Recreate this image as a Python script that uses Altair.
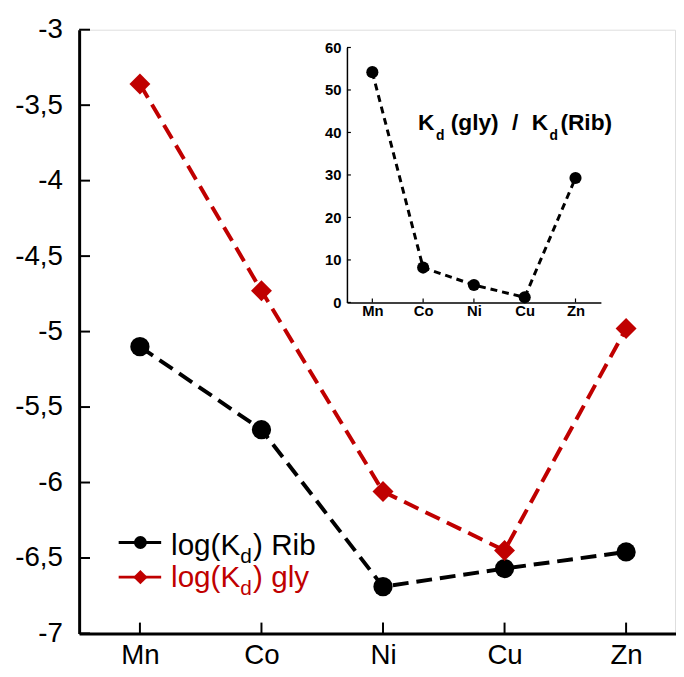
import altair as alt
import pandas as pd

# ---- data ----
metals = ["Mn", "Co", "Ni", "Cu", "Zn"]
log_kd_rib = [-5.10, -5.65, -6.69, -6.57, -6.46]
log_kd_gly = [-3.36, -4.73, -6.06, -6.45, -4.98]
ratio_gly_rib = [54.2, 8.2, 4.1, 1.2, 29.3]
main_y_ticks = [-7, -6.5, -6, -5.5, -5, -4.5, -4, -3.5, -3]
inset_y_ticks = [0, 10, 20, 30, 40, 50, 60]

FONT = "Liberation Sans"
RED = "#C00000"
W, H = 603, 611

rib_df = pd.DataFrame({"metal": metals, "value": log_kd_rib})
gly_df = pd.DataFrame({"metal": metals, "value": log_kd_gly})
ratio_df = pd.DataFrame({"metal": metals, "ratio": ratio_gly_rib})
cat_df = pd.DataFrame({"metal": metals})
ytick_df = pd.DataFrame({"value": main_y_ticks})
itick_df = pd.DataFrame({"ratio": inset_y_ticks})

# ---- main scales / axes ----
x_axis_main = alt.Axis(title=None, orient="bottom", ticks=False, grid=False,
                       domainWidth=3, domainColor="black", labelAngle=0,
                       labelFont=FONT, labelFontSize=28, labelColor="black",
                       labelPadding=8)
y_axis_main = alt.Axis(title=None, orient="left", ticks=False, grid=False,
                       values=main_y_ticks, domainWidth=3, domainColor="black",
                       labelFont=FONT, labelFontSize=28, labelColor="black",
                       labelPadding=17,
                       labelExpr="replace(toString(datum.value), '.', ',')")
x_main = alt.X("metal:N", sort=metals,
               scale=alt.Scale(type="point", domain=metals, range=[0, 615], padding=0.5),
               axis=x_axis_main)
y_main = alt.Y("value:Q", scale=alt.Scale(domain=[-7, -3], nice=False, zero=False),
               axis=y_axis_main)

rib_line = alt.Chart(rib_df).mark_line(color="black", strokeWidth=4,
                                       strokeDash=[16, 8]).encode(x=x_main, y=y_main)
gly_line = alt.Chart(gly_df).mark_line(color=RED, strokeWidth=4,
                                       strokeDash=[16, 8]).encode(x=x_main, y=y_main)
rib_pts = alt.Chart(rib_df).mark_point(shape="circle", filled=True, size=380,
                                       color="black", opacity=1).encode(x=x_main, y=y_main)
gly_pts = alt.Chart(gly_df).mark_point(shape="diamond", filled=True, size=450,
                                       color=RED, opacity=1).encode(x=x_main, y=y_main)
x_ticks = alt.Chart(cat_df).mark_rule(color="black", strokeWidth=2).encode(
    x=x_main, y=alt.value(H), y2=alt.value(H - 11))
y_ticks = alt.Chart(ytick_df).mark_rule(color="black", strokeWidth=2).encode(
    y=y_main, x=alt.value(0), x2=alt.value(11))


def txt(s, x, y, size, color="black", bold=False):
    return alt.Chart(pd.DataFrame({"t": [s]})).mark_text(
        align="left", baseline="alphabetic", font=FONT, fontSize=size,
        fontWeight="bold" if bold else "normal", color=color
    ).encode(text="t:N", x=alt.value(x), y=alt.value(y))


def leg_line(y, color):
    return alt.Chart(pd.DataFrame({"t": [0]})).mark_rule(color=color, strokeWidth=3).encode(
        x=alt.value(40), x2=alt.value(83), y=alt.value(y))


def leg_pt(y, color, shape, size):
    return alt.Chart(pd.DataFrame({"t": [0]})).mark_point(
        shape=shape, filled=True, size=size, color=color, opacity=1).encode(
        x=alt.value(62), y=alt.value(y))


legend = [
    leg_line(519, "black"), leg_pt(519, "black", "circle", 170),
    txt("log(K", 93, 532, 30), txt("d", 163, 540, 21), txt(") Rib", 176, 532, 30),
    leg_line(554, RED), leg_pt(554, RED, "diamond", 210),
    txt("log(K", 93, 564, 30, RED), txt("d", 163, 572, 21, RED), txt(") gly", 176, 564, 30, RED),
]

title = [
    txt("K", 343, 102, 23, bold=True), txt("d", 361, 112, 14, bold=True),
    txt("(gly)", 376, 102, 23, bold=True), txt("/", 438, 102, 23, bold=True),
    txt("K", 458, 102, 23, bold=True), txt("d", 476, 112, 14, bold=True),
    txt("(Rib)", 487, 102, 23, bold=True),
]

main = alt.layer(rib_line, gly_line, x_ticks, y_ticks, rib_pts, gly_pts, *legend, *title)

# ---- inset ----
IY0, IY1 = 276, 18   # pixel positions of 0 and 60
IX0, IX1 = 271, 528
x_axis_in = alt.Axis(title=None, orient="bottom", offset=IY0 - H, ticks=False, grid=False,
                     domainWidth=1.5, domainColor="black", labelAngle=0,
                     labelFont=FONT, labelFontSize=15, labelFontWeight="bold",
                     labelColor="black", labelPadding=1)
y_axis_in = alt.Axis(title=None, orient="left", offset=-IX0, ticks=False, grid=False,
                     values=inset_y_ticks, domainWidth=1.5, domainColor="black",
                     labelFont=FONT, labelFontSize=15, labelFontWeight="bold",
                     labelColor="black", labelPadding=6)
x_in = alt.X("metal:N", sort=metals,
             scale=alt.Scale(type="point", domain=metals, range=[IX0, IX1], padding=0.5),
             axis=x_axis_in)
y_in = alt.Y("ratio:Q", scale=alt.Scale(domain=[0, 60], range=[IY0, IY1], nice=False),
             axis=y_axis_in)

in_line = alt.Chart(ratio_df).mark_line(color="black", strokeWidth=3,
                                        strokeDash=[7, 5]).encode(x=x_in, y=y_in)
in_pts = alt.Chart(ratio_df).mark_point(shape="circle", filled=True, size=150,
                                        color="black", opacity=1).encode(x=x_in, y=y_in)
in_xt = alt.Chart(cat_df).mark_rule(color="black", strokeWidth=1.2).encode(
    x=x_in, y=alt.value(IY0), y2=alt.value(IY0 - 4))
in_yt = alt.Chart(itick_df).mark_rule(color="black", strokeWidth=1.2).encode(
    y=y_in, x=alt.value(IX0), x2=alt.value(IX0 + 4))

inset = alt.layer(in_line, in_xt, in_yt, in_pts)

chart = alt.layer(main, inset).resolve_scale(x="independent", y="independent").properties(
    width=W, height=H,
    autosize=alt.AutoSizeParams(type="none"),
    padding={"left": 72, "top": 18, "right": 1, "bottom": 32},
).configure_view(stroke=None).configure(background="white")

chart.save("out.html", embed_options={"renderer": "svg", "actions": False})
